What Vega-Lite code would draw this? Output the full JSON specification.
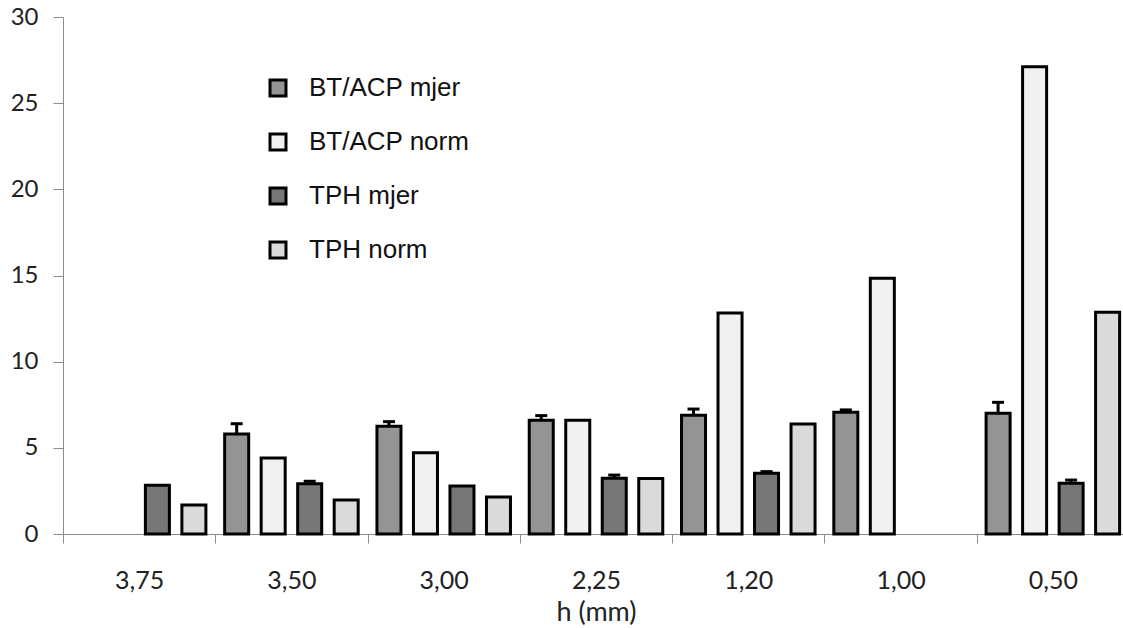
{
  "$schema": "https://vega.github.io/schema/vega-lite/v6.json",
  "width": 1060,
  "height": 517,
  "autosize": {"type": "none"},
  "padding": {"left": 63, "top": 17, "right": 0, "bottom": 94},
  "background": "white",
  "config": {
    "view": {"stroke": null},
    "font": "Lato"
  },
  "data": {
    "values": [
      {"h": "3,75", "series": "TPH mjer", "value": 2.83, "err": null},
      {"h": "3,75", "series": "TPH norm", "value": 1.68, "err": null},
      {"h": "3,50", "series": "BT/ACP mjer", "value": 5.8, "err": 6.4},
      {"h": "3,50", "series": "BT/ACP norm", "value": 4.41, "err": null},
      {"h": "3,50", "series": "TPH mjer", "value": 2.92, "err": 3.06},
      {"h": "3,50", "series": "TPH norm", "value": 1.97, "err": null},
      {"h": "3,00", "series": "BT/ACP mjer", "value": 6.25, "err": 6.52},
      {"h": "3,00", "series": "BT/ACP norm", "value": 4.72, "err": null},
      {"h": "3,00", "series": "TPH mjer", "value": 2.79, "err": null},
      {"h": "3,00", "series": "TPH norm", "value": 2.15, "err": null},
      {"h": "2,25", "series": "BT/ACP mjer", "value": 6.6, "err": 6.87},
      {"h": "2,25", "series": "BT/ACP norm", "value": 6.6, "err": null},
      {"h": "2,25", "series": "TPH mjer", "value": 3.23, "err": 3.42},
      {"h": "2,25", "series": "TPH norm", "value": 3.22, "err": null},
      {"h": "1,20", "series": "BT/ACP mjer", "value": 6.89, "err": 7.25},
      {"h": "1,20", "series": "BT/ACP norm", "value": 12.83, "err": null},
      {"h": "1,20", "series": "TPH mjer", "value": 3.52, "err": 3.62},
      {"h": "1,20", "series": "TPH norm", "value": 6.38, "err": null},
      {"h": "1,00", "series": "BT/ACP mjer", "value": 7.06, "err": 7.2},
      {"h": "1,00", "series": "BT/ACP norm", "value": 14.84, "err": null},
      {"h": "0,50", "series": "BT/ACP mjer", "value": 7.0, "err": 7.64},
      {"h": "0,50", "series": "BT/ACP norm", "value": 27.12, "err": null},
      {"h": "0,50", "series": "TPH mjer", "value": 2.94, "err": 3.13},
      {"h": "0,50", "series": "TPH norm", "value": 12.87, "err": null}
    ]
  },
  "encoding": {
    "x": {
      "field": "h",
      "type": "nominal",
      "sort": ["3,75", "3,50", "3,00", "2,25", "1,20", "1,00", "0,50"],
      "scale": {"range": [0, 1066], "paddingInner": 0, "paddingOuter": 0},
      "axis": {
        "title": "h (mm)",
        "labelAngle": 0,
        "tickBand": "extent",
        "domainColor": "#8c8c8c",
        "tickColor": "#8c8c8c",
        "tickSize": 9,
        "labelPadding": 25,
        "labelFont": "Lato",
        "labelFontSize": 25,
        "labelColor": "#222222",
        "titleFont": "Lato",
        "titleFontSize": 27,
        "titleFontWeight": "normal",
        "titleColor": "#222222",
        "titlePadding": 6
      }
    },
    "xOffset": {
      "field": "series",
      "type": "nominal",
      "sort": ["BT/ACP mjer", "BT/ACP norm", "TPH mjer", "TPH norm"],
      "scale": {"domain": ["BT/ACP mjer", "BT/ACP norm", "TPH mjer", "TPH norm"], "paddingInner": 0.342, "paddingOuter": 0.257}
    }
  },
  "layer": [
    {
      "mark": {"type": "bar", "stroke": "black", "strokeWidth": 3, "cornerRadius": 0},
      "encoding": {
        "y": {
          "field": "value",
          "type": "quantitative",
          "scale": {"domain": [0, 30], "nice": false},
          "axis": {
            "title": null,
            "values": [0, 5, 10, 15, 20, 25, 30],
            "grid": false,
            "domainColor": "#8c8c8c",
            "tickColor": "#8c8c8c",
            "tickSize": 10,
            "labelPadding": 15,
            "labelFont": "Lato",
            "labelFontSize": 24,
            "labelColor": "#222222"
          }
        },
        "fill": {
          "field": "series",
          "type": "nominal",
          "scale": {
            "domain": ["BT/ACP mjer", "BT/ACP norm", "TPH mjer", "TPH norm"],
            "range": ["#949494", "#f1f1f1", "#767676", "#dadada"]
          },
          "legend": {
            "title": null,
            "orient": "none",
            "legendX": 202,
            "legendY": 58,
            "padding": 0,
            "symbolType": "square",
            "symbolSize": 256,
            "symbolStrokeColor": "black",
            "symbolStrokeWidth": 3,
            "symbolOpacity": 1,
            "labelFont": "Liberation Sans",
            "labelFontSize": 26,
            "labelColor": "#111111",
            "labelOffset": 18,
            "rowPadding": 26,
            "labelLimit": 400
          }
        }
      }
    },
    {
      "transform": [{"filter": "datum.err != null"}],
      "mark": {"type": "rule", "color": "black", "strokeWidth": 3},
      "encoding": {
        "y": {"field": "value", "type": "quantitative"},
        "y2": {"field": "err"}
      }
    },
    {
      "transform": [{"filter": "datum.err != null"}],
      "mark": {"type": "tick", "color": "black", "size": 12, "thickness": 3, "orient": "horizontal", "opacity": 1},
      "encoding": {
        "y": {"field": "err", "type": "quantitative"}
      }
    }
  ]
}
